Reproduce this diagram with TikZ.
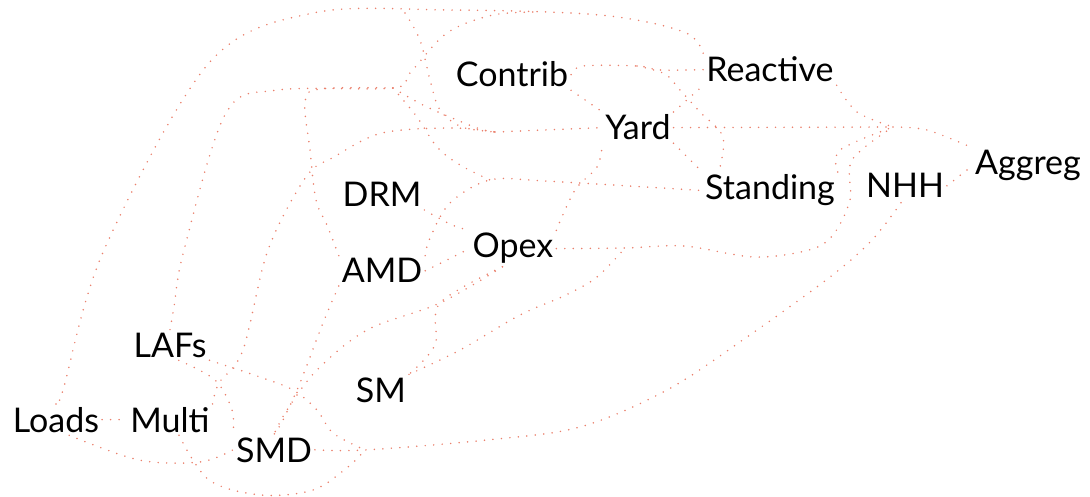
\documentclass[tikz,border=0pt]{standalone}
\usepackage{fontspec}
\setmainfont{Lato}
\definecolor{edgec}{RGB}{234,128,108}
\tikzset{
  lbl/.style={anchor=base, inner sep=3pt, outer sep=0pt, font=\fontsize{34}{36}\selectfont},
  edge/.style={draw=edgec, line width=1.7pt, line cap=round, dash pattern=on 0pt off 8.5pt},
}
\begin{document}
\begin{tikzpicture}[x=1pt,y=-1pt]
\useasboundingbox (0,0) rectangle (1090,497);
% nodes
\node[lbl] (Contrib)  at (512,87)  {Contrib};
\node[lbl] (Reactive) at (770,82)  {Reactive};
\node[lbl] (Yard)     at (638,140) {Yard};
\node[lbl] (Aggreg)   at (1028,175) {Aggreg};
\node[lbl] (Standing) at (770,200) {Standing};
\node[lbl] (NHH)      at (905,198) {NHH};
\node[lbl] (DRM)      at (382,207) {DRM};
\node[lbl] (Opex)     at (513,258) {Opex};
\node[lbl] (AMD)      at (382,283) {AMD};
\node[lbl] (LAFs)     at (170,357) {LAFs};
\node[lbl] (SM)       at (381,402) {SM};
\node[lbl] (Loads)    at (56,432)  {Loads};
\node[lbl] (Multi)    at (170,432) {Multi};
\node[lbl] (SMD)      at (274,462) {SMD};
% junctions
\coordinate (jt) at (405,13);
\coordinate (jt2) at (540,12);
\coordinate (j2) at (393,88);
\coordinate (jy) at (495,132);
\coordinate (js) at (490,180);
\coordinate (ja) at (893,127);
\coordinate (jo) at (625,248);
\coordinate (jn) at (365,450);
\coordinate (jc) at (637,66);
% edges
\draw[edge] plot[smooth,tension=0.55] coordinates {(Loads.north) (63,390) (104,250) (209,63) (313,13) (450,10) (600,15) (684,32) (Reactive.north west)};
\draw[edge] plot[smooth,tension=0.55] coordinates {(jt) (420,40) (430,80) (440,110) (462,127) (jy)};
\draw[edge] plot[smooth,tension=0.55] coordinates {(LAFs.north) (174,307) (184,250) (226,113) (278,90) (j2) (410,73) (447,33) (493,15) (jt2)};
\draw[edge] plot[smooth,tension=0.55] coordinates {(AMD.north west) (327,225) (316,200) (310,150) (305,102) (320,89) (j2)};
\draw[edge] plot[smooth,tension=0.55] coordinates {(j2) (427,107) (477,128) (jy)};
\draw[edge] plot[smooth,tension=0.55] coordinates {(j2) (417,117) (437,147) (460,165) (js)};
\draw[edge] plot[smooth,tension=0.55] coordinates {(AMD.north east) (430,238) (450,203) (js) (545,181) (Standing.west)};
\draw[edge] plot[smooth,tension=0.55] coordinates {(Multi.north east) (219,383) (243,350) (268,250) (306,177) (334,157) (382,133) (452,128) (jy)};
\draw[edge] (jy) -- (Yard.west);
\draw[edge] plot[smooth,tension=0.55] coordinates {(Contrib.east) (583,66) (jc) (660,70) (Reactive.west)};
\draw[edge] plot[smooth,tension=0.55] coordinates {(jc) (665,74) (680,90) (700,112) (723,137) (Standing.160)};
\draw[edge] (Contrib.south east) -- (Yard.north west);
\draw[edge] (Yard.north east) -- (Reactive.south west);
\draw[edge] (Yard.south east) -- (Standing.north west);
\draw[edge] (Yard.east) -- (ja);
\draw[edge] plot[smooth,tension=0.55] coordinates {(ja) (927,130) (Aggreg.north west)};
\draw[edge] plot[smooth,tension=0.55] coordinates {(Reactive.south east) (857,112) (ja)};
\draw[edge] plot[smooth,tension=0.55] coordinates {(Standing.north east) (840,150) (ja)};
\draw[edge] plot[smooth,tension=0.55] coordinates {(Opex.east) (jo) (684,246) (754,257) (809,250) (833,235) (850,200) (852,160) (ja)};
\draw[edge] plot[smooth,tension=0.55] coordinates {(SM.north east) (460,350) (520,315) (566,295) (597,277) (jo)};
\draw[edge] plot[smooth,tension=0.55] coordinates {(SMD.east) (jn) (487,440) (580,427) (667,390) (747,337) (830,277) (872,240) (NHH.-100)};
\draw[edge] plot[smooth,tension=0.55] coordinates {(Multi.-60) (209,480) (261,495) (313,490) (348,467) (jn)};
\draw[edge] plot[smooth,tension=0.55] coordinates {(Loads.-50) (139,460) (200,462) (SMD.west)};
\draw[edge] (Loads.east) -- (Multi.west);
\draw[edge] plot[smooth,tension=0.55] coordinates {(LAFs.south east) (260,377) (293,390) (317,410) (333,433) (jn)};
\draw[edge] plot[smooth,tension=0.55] coordinates {(LAFs.-60) (215,380) (232,410) (SMD.north west)};
\draw[edge] plot[smooth,tension=0.55] coordinates {(AMD.south west) (323,323) (300,383) (283,420) (SMD.north)};
\draw[edge] plot[smooth,tension=0.55] coordinates {(Opex.-120) (440,303) (367,330) (317,370) (287,410) (SMD.north)};
\draw[edge] plot[smooth,tension=0.55] coordinates {(Opex.-120) (440,303) (435,345) (SM.north east)};
\draw[edge] (AMD.east) -- (Opex.west);
\draw[edge] plot[smooth,tension=0.55] coordinates {(DRM.south east) (452,225) (Opex.north west)};
\draw[edge] plot[smooth,tension=0.55] coordinates {(Opex.north east) (575,190) (597,167) (Yard.south west)};
\draw[edge] (NHH.east) -- (Aggreg.west);
\end{tikzpicture}
\end{document}
